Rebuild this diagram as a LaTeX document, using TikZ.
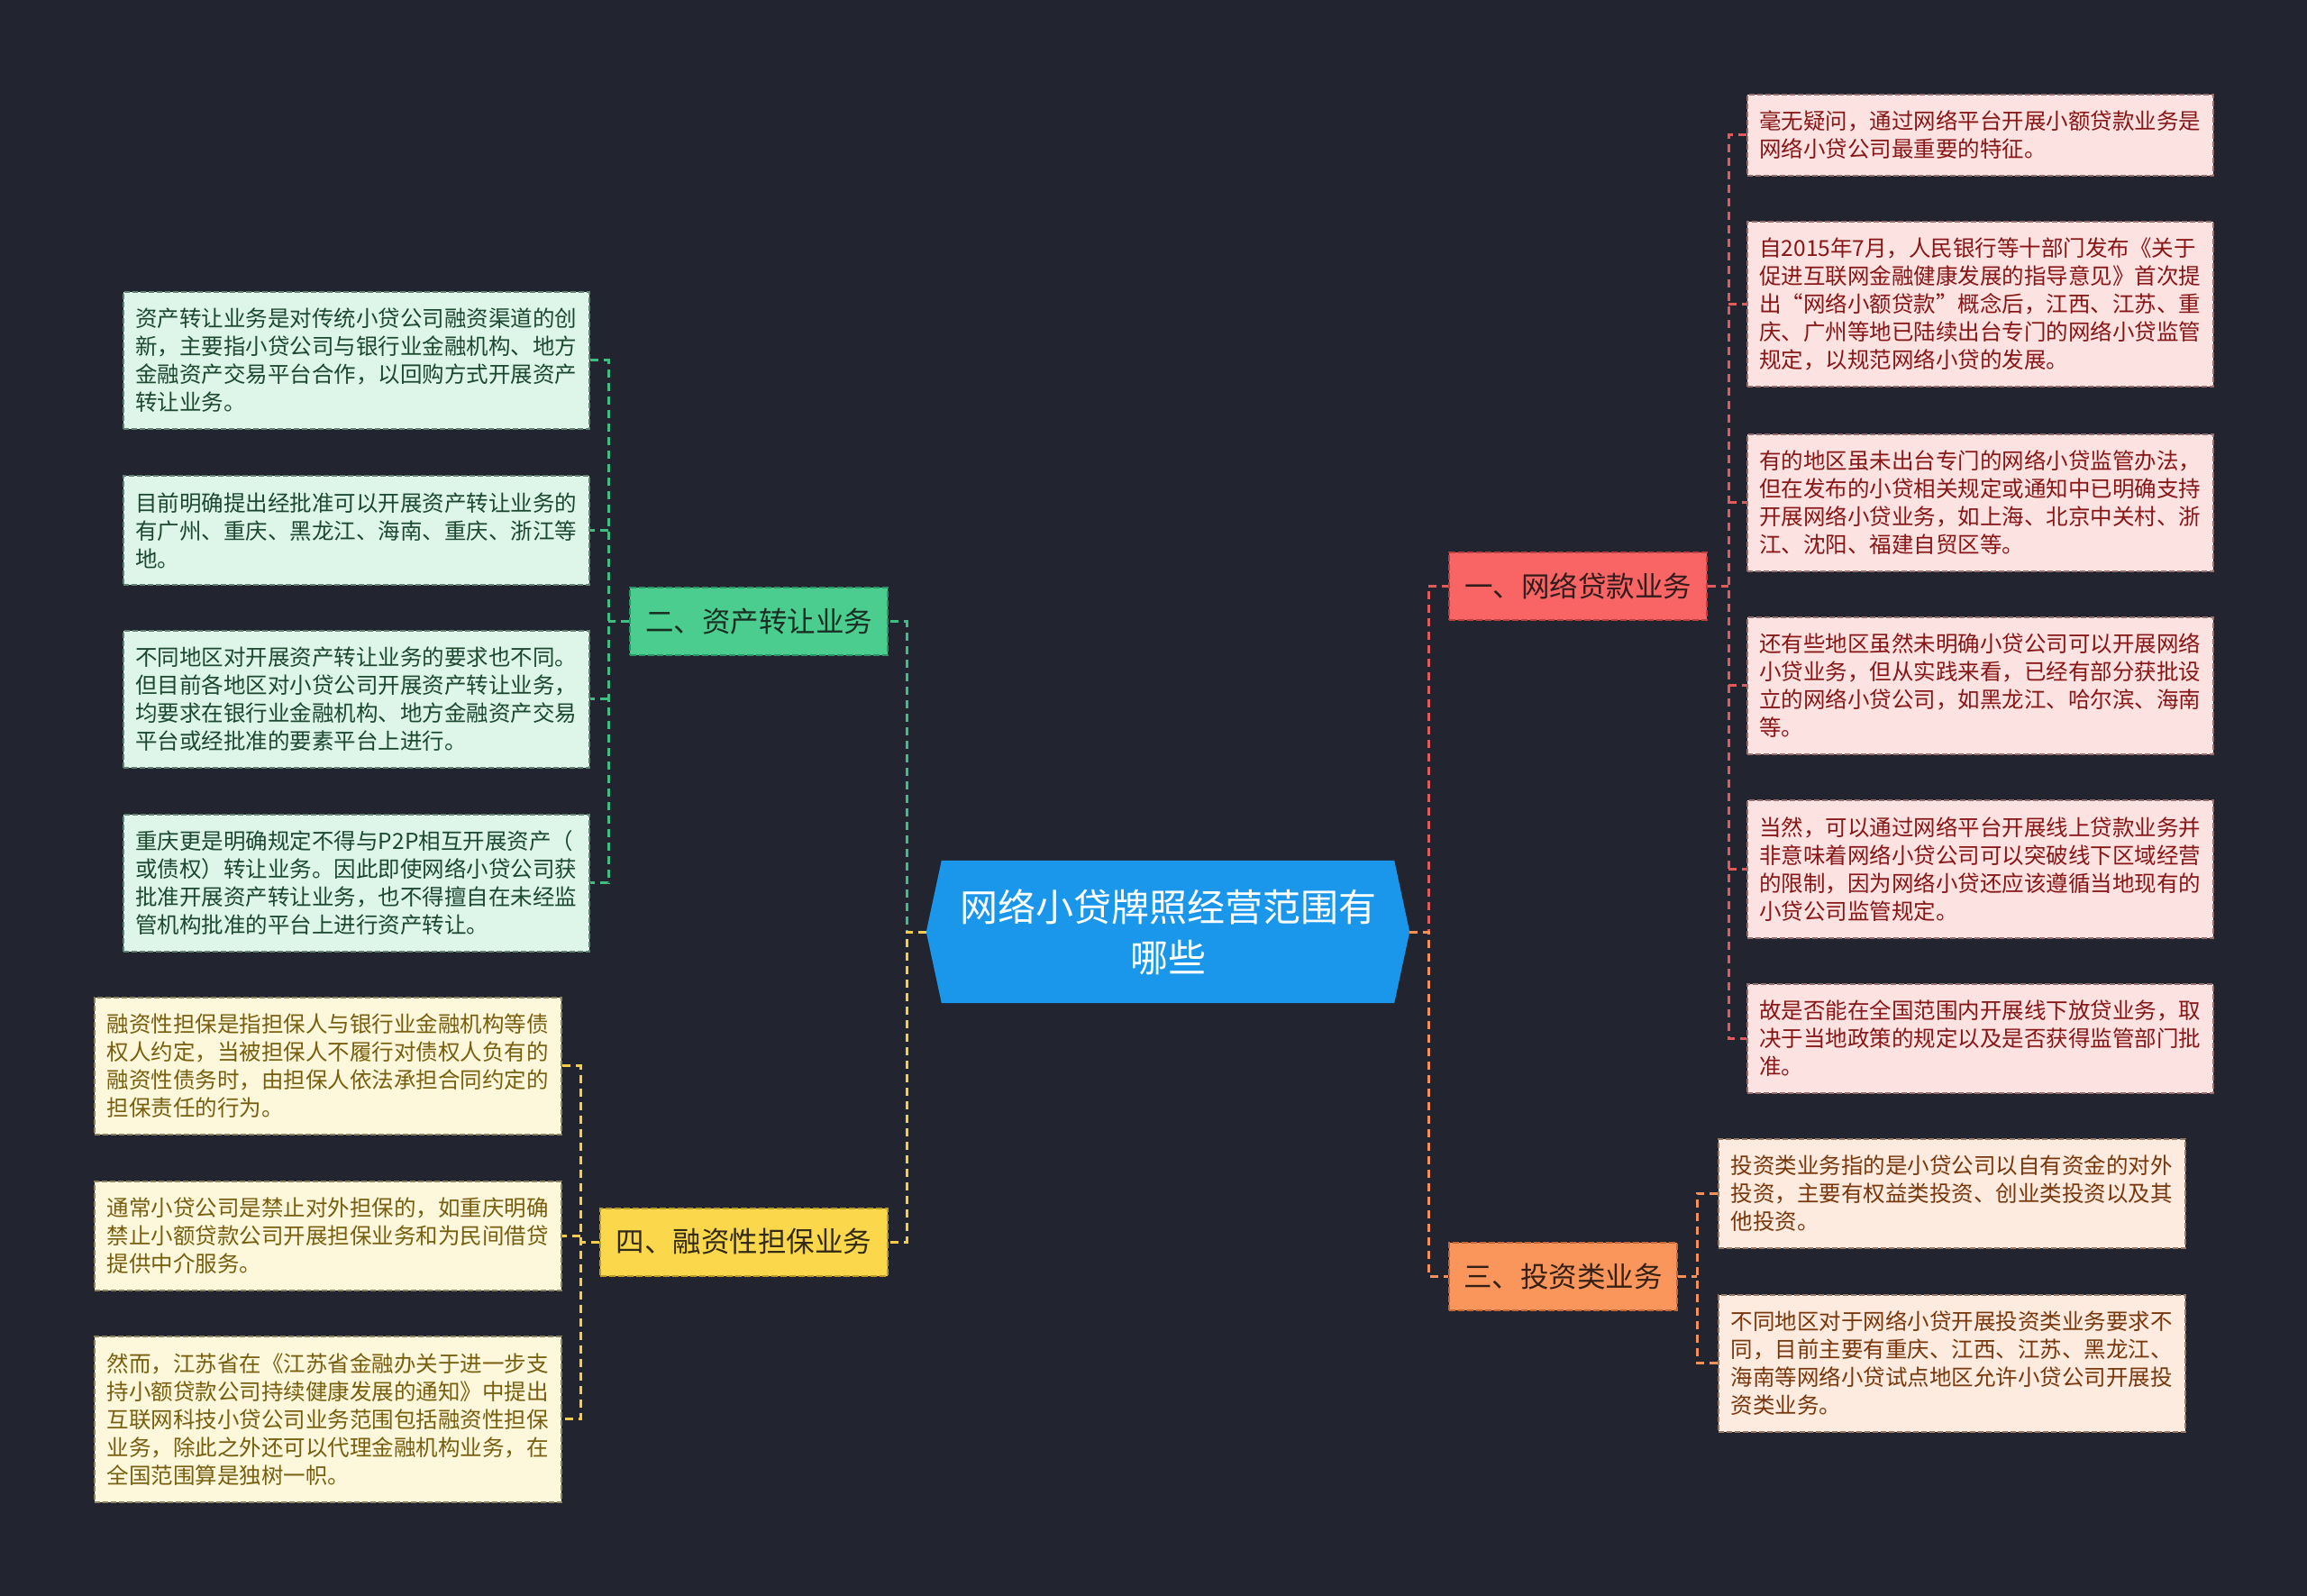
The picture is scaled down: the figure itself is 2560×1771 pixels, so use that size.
\documentclass[tikz,border=0pt]{standalone}
\usepackage{fontspec}
\setmainfont{Noto Sans CJK SC}
\usetikzlibrary{calc}
\definecolor{bg}{RGB}{34,37,48}
\definecolor{cblue}{RGB}{26,151,235}
\definecolor{rfill}{RGB}{249,101,101}
\definecolor{rline}{RGB}{226,90,90}
\definecolor{rbord}{RGB}{185,65,65}
\definecolor{rcfill}{RGB}{253,226,226}
\definecolor{rctext}{RGB}{135,22,22}
\definecolor{rcbord}{RGB}{150,110,110}
\definecolor{rtext}{RGB}{50,28,28}
\definecolor{ofill}{RGB}{250,150,92}
\definecolor{oline}{RGB}{245,145,88}
\definecolor{obord}{RGB}{195,105,55}
\definecolor{ocfill}{RGB}{253,235,223}
\definecolor{octext}{RGB}{120,55,12}
\definecolor{ocbord}{RGB}{150,120,100}
\definecolor{otext}{RGB}{52,32,20}
\definecolor{gfill}{RGB}{74,205,142}
\definecolor{gline}{RGB}{62,190,130}
\definecolor{gbord}{RGB}{40,150,100}
\definecolor{gcfill}{RGB}{222,245,233}
\definecolor{gctext}{RGB}{28,72,48}
\definecolor{gcbord}{RGB}{100,130,115}
\definecolor{gtext}{RGB}{25,45,35}
\definecolor{yfill}{RGB}{250,215,75}
\definecolor{yline}{RGB}{245,205,70}
\definecolor{ybord}{RGB}{185,155,40}
\definecolor{ycfill}{RGB}{253,247,220}
\definecolor{yctext}{RGB}{120,95,15}
\definecolor{ycbord}{RGB}{140,130,95}
\definecolor{ytext}{RGB}{50,42,20}
\tikzset{
  conn/.style={line width=3pt, dash pattern=on 9pt off 6pt},
  branchbox/.style={draw, line width=2pt, dash pattern=on 7pt off 3pt, minimum height=75pt, inner xsep=0pt, inner ysep=0pt, font=\fontsize{31.5}{38}\selectfont},
  childbox/.style={draw, line width=1.8pt, dash pattern=on 6pt off 3pt, text width=490pt, align=left, inner xsep=13.5pt, inner ysep=0pt, anchor=north west, font=\fontsize{24.5}{31}\selectfont},
  rchild/.style={childbox, fill=rcfill, draw=rcbord, text=rctext},
  ochild/.style={childbox, fill=ocfill, draw=ocbord, text=octext},
  gchild/.style={childbox, fill=gcfill, draw=gcbord, text=gctext},
  ychild/.style={childbox, fill=ycfill, draw=ycbord, text=yctext}
}
\begin{document}
\begin{tikzpicture}[x=1pt,y=-1pt]
\useasboundingbox (0,0) rectangle (2560,1771);
\fill[bg] (0,0) rectangle (2560,1771);

% center
\node[minimum width=536pt, minimum height=158pt, inner sep=0pt] (cen) at (1296,1034) {};
\fill[cblue] (cen.west) -- ([xshift=17pt]cen.north west) -- ([xshift=-17pt]cen.north east) -- (cen.east) -- ([xshift=-17pt]cen.south east) -- ([xshift=17pt]cen.south west) -- cycle;
\node[text=white, align=center, font=\fontsize{42}{56}\selectfont] (ctext) at (cen) {网络小贷牌照经营范围有\\哪些};

% branches
\node[branchbox, fill=rfill, draw=rbord, text=rtext, minimum width=286pt] (b1) at (1751,650) {一、网络贷款业务};
\node[branchbox, fill=ofill, draw=obord, text=otext, minimum width=253pt] (b3) at (1734.5,1416.5) {三、投资类业务};
\node[branchbox, fill=gfill, draw=gbord, text=gtext, minimum width=286pt] (b2) at (842,689.5) {二、资产转让业务};
\node[branchbox, fill=yfill, draw=ybord, text=ytext, minimum width=319pt] (b4) at (825.5,1378) {四、融资性担保业务};

% right children (branch 1)
\node[rchild, minimum height=90pt] (c1) at (1938,104) {毫无疑问，通过网络平台开展小额贷款业务是\\网络小贷公司最重要的特征。};
\node[rchild, minimum height=183pt] (c2) at (1938,245) {自2015年7月，人民银行等十部门发布《关于\\促进互联网金融健康发展的指导意见》首次提\\出“网络小额贷款”概念后，江西、江苏、重\\庆、广州等地已陆续出台专门的网络小贷监管\\规定，以规范网络小贷的发展。};
\node[rchild, minimum height=152pt] (c3) at (1938,481) {有的地区虽未出台专门的网络小贷监管办法，\\但在发布的小贷相关规定或通知中已明确支持\\开展网络小贷业务，如上海、北京中关村、浙\\江、沈阳、福建自贸区等。};
\node[rchild, minimum height=152pt] (c4) at (1938,684) {还有些地区虽然未明确小贷公司可以开展网络\\小贷业务，但从实践来看，已经有部分获批设\\立的网络小贷公司，如黑龙江、哈尔滨、海南\\等。};
\node[rchild, minimum height=153pt] (c5) at (1938,887) {当然，可以通过网络平台开展线上贷款业务并\\非意味着网络小贷公司可以突破线下区域经营\\的限制，因为网络小贷还应该遵循当地现有的\\小贷公司监管规定。};
\node[rchild, minimum height=121pt] (c6) at (1938,1091) {故是否能在全国范围内开展线下放贷业务，取\\决于当地政策的规定以及是否获得监管部门批\\准。};

% branch 3 children
\node[ochild, minimum height=121pt, inner xsep=14pt] (d1) at (1906,1263) {投资类业务指的是小贷公司以自有资金的对外\\投资，主要有权益类投资、创业类投资以及其\\他投资。};
\node[ochild, minimum height=152pt, inner xsep=14pt] (d2) at (1906,1436) {不同地区对于网络小贷开展投资类业务要求不\\同，目前主要有重庆、江西、江苏、黑龙江、\\海南等网络小贷试点地区允许小贷公司开展投\\资类业务。};

% branch 2 children
\node[gchild, minimum height=152pt] (e1) at (136,323) {资产转让业务是对传统小贷公司融资渠道的创\\新，主要指小贷公司与银行业金融机构、地方\\金融资产交易平台合作，以回购方式开展资产\\转让业务。};
\node[gchild, minimum height=121pt] (e2) at (136,527) {目前明确提出经批准可以开展资产转让业务的\\有广州、重庆、黑龙江、海南、重庆、浙江等\\地。};
\node[gchild, minimum height=152pt] (e3) at (136,699) {不同地区对开展资产转让业务的要求也不同。\\但目前各地区对小贷公司开展资产转让业务，\\均要求在银行业金融机构、地方金融资产交易\\平台或经批准的要素平台上进行。};
\node[gchild, minimum height=152pt] (e4) at (136,903) {重庆更是明确规定不得与P2P相互开展资产（\\或债权）转让业务。因此即使网络小贷公司获\\批准开展资产转让业务，也不得擅自在未经监\\管机构批准的平台上进行资产转让。};

% branch 4 children
\node[ychild, minimum height=152pt, inner xsep=14pt] (f1) at (104,1106) {融资性担保是指担保人与银行业金融机构等债\\权人约定，当被担保人不履行对债权人负有的\\融资性债务时，由担保人依法承担合同约定的\\担保责任的行为。};
\node[ychild, minimum height=121pt, inner xsep=14pt] (f2) at (104,1310) {通常小贷公司是禁止对外担保的，如重庆明确\\禁止小额贷款公司开展担保业务和为民间借贷\\提供中介服务。};
\node[ychild, minimum height=184pt, inner xsep=14pt] (f3) at (104,1482) {然而，江苏省在《江苏省金融办关于进一步支\\持小额贷款公司持续健康发展的通知》中提出\\互联网科技小贷公司业务范围包括融资性担保\\业务，除此之外还可以代理金融机构业务，在\\全国范围算是独树一帜。};

% bus coordinates
\coordinate (cr) at (1585,1034);
\coordinate (cl) at (1006,1034);
\coordinate (rb) at (1918,650);
\coordinate (ob) at (1883,1416.5);
\coordinate (gb) at (675,689.5);
\coordinate (yb) at (644,1378);

% center to branches
\draw[conn, gline] (cen.west) -- (cl) |- (b2.east);
\draw[conn, yline] (cen.west) -- (cl) |- (b4.east);
\draw[conn, rline] (cen.east) -- (cr) |- (b1.west);
\draw[conn, oline] (cen.east) -- (cr) |- (b3.west);

% branch 1 to children
\draw[conn, rline] (b1.east) -- (rb);
\draw[conn, rline] (c1.west) -| (rb) |- (c6.west);
\foreach \n in {c2,c3,c4,c5} \draw[conn, rline] (\n.west -| rb) -- (\n.west);

% branch 3 to children
\draw[conn, oline] (b3.east) -- (ob);
\draw[conn, oline] (d1.west) -| (ob) |- (d2.west);

% branch 2 to children
\draw[conn, gline] (b2.west) -- (gb);
\draw[conn, gline] (e1.east) -| (gb) |- (e4.east);
\foreach \n in {e2,e3} \draw[conn, gline] (\n.east -| gb) -- (\n.east);

% branch 4 to children
\draw[conn, yline] (b4.west) -- (yb);
\draw[conn, yline] (f1.east) -| (yb) |- (f3.east);
\draw[conn, yline] (f2.east -| yb) -- (f2.east);
\end{tikzpicture}
\end{document}
